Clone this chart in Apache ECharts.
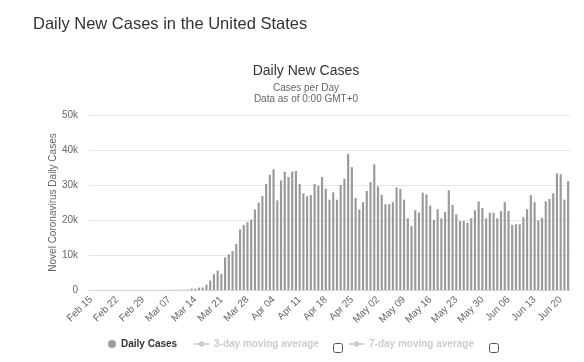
<!DOCTYPE html>
<html>
<head>
<meta charset="utf-8">
<script src="https://cdn.jsdelivr.net/npm/echarts@6/dist/echarts.min.js"></script>
<style>html,body{margin:0;padding:0;background:#fff;}#c{width:584px;height:362px;}</style>
</head>
<body>
<div id="c"></div>
<script>
const categories = [
"Feb 15","Feb 16","Feb 17","Feb 18","Feb 19","Feb 20","Feb 21","Feb 22","Feb 23","Feb 24","Feb 25","Feb 26","Feb 27","Feb 28","Feb 29",
"Mar 01","Mar 02","Mar 03","Mar 04","Mar 05","Mar 06","Mar 07","Mar 08","Mar 09","Mar 10","Mar 11","Mar 12","Mar 13","Mar 14","Mar 15","Mar 16","Mar 17","Mar 18","Mar 19","Mar 20","Mar 21","Mar 22","Mar 23","Mar 24","Mar 25","Mar 26","Mar 27","Mar 28","Mar 29","Mar 30","Mar 31",
"Apr 01","Apr 02","Apr 03","Apr 04","Apr 05","Apr 06","Apr 07","Apr 08","Apr 09","Apr 10","Apr 11","Apr 12","Apr 13","Apr 14","Apr 15","Apr 16","Apr 17","Apr 18","Apr 19","Apr 20","Apr 21","Apr 22","Apr 23","Apr 24","Apr 25","Apr 26","Apr 27","Apr 28","Apr 29","Apr 30",
"May 01","May 02","May 03","May 04","May 05","May 06","May 07","May 08","May 09","May 10","May 11","May 12","May 13","May 14","May 15","May 16","May 17","May 18","May 19","May 20","May 21","May 22","May 23","May 24","May 25","May 26","May 27","May 28","May 29","May 30","May 31",
"Jun 01","Jun 02","Jun 03","Jun 04","Jun 05","Jun 06","Jun 07","Jun 08","Jun 09","Jun 10","Jun 11","Jun 12","Jun 13","Jun 14","Jun 15","Jun 16","Jun 17","Jun 18","Jun 19","Jun 20","Jun 21","Jun 22"
];
const dailyCases = [
0,0,0,0,0,0,0,0,0,0,0,0,0,0,0,
8,15,20,30,45,50,80,90,70,100,110,120,
400,400,700,700,1500,2700,4500,5500,4600,9300,10200,11100,13200,17300,18600,19400,20100,23000,25000,26900,30300,32900,34500,25600,
31300,33800,32300,33800,34000,30300,27600,26800,27100,30300,29800,32300,28900,25800,27900,25800,30000,31800,38900,35100,26300,23000,25100,28300,30800,35900,29600,27200,24500,
24500,25100,29300,28900,25800,20500,18300,22800,22100,27800,27300,24100,20000,23100,20500,22300,28500,24300,21600,19700,19700,19200,20500,22800,25300,23400,20500,22100,
22100,20500,22600,25100,22600,18600,18800,18800,20800,23100,27100,25100,19900,20600,25300,26000,27600,33300,33100,25800,31100
];
const movingAvg3 = [];
const movingAvg7 = [];
const yTicks = [0, 10000, 20000, 30000, 40000, 50000];

const FONT = '"Liberation Sans", Arial, sans-serif';
const chart = echarts.init(document.getElementById('c'), null, {renderer: 'canvas'});
const legendCommon = {
  top: 339, padding: 0, itemGap: 10,
  textStyle: {fontFamily: FONT, fontSize: 10, fontWeight: 'bold', color: '#333'},
  inactiveColor: '#cccccc',
  selected: {'3-day moving average': false, '7-day moving average': false}
};
chart.setOption({
  animation: false,
  graphic: [
    {type: 'text', left: 33, top: 16, style: {text: 'Daily New Cases in the United States', font: '16.5px ' + FONT, fill: '#333'}},
    {type: 'text', x: 306, y: 71, style: {text: 'Daily New Cases', align: 'center', verticalAlign: 'middle', font: '14px ' + FONT, fill: '#333'}},
    {type: 'text', x: 306, y: 88, style: {text: 'Cases per Day', align: 'center', verticalAlign: 'middle', font: '10px ' + FONT, fill: '#666'}},
    {type: 'text', x: 306, y: 99, style: {text: 'Data as of 0:00 GMT+0', align: 'center', verticalAlign: 'middle', font: '10px ' + FONT, fill: '#666'}},
    {type: 'rect', shape: {x: 333.5, y: 343.5, width: 9, height: 9, r: 2}, style: {fill: '#fff', stroke: '#555', lineWidth: 1}},
    {type: 'rect', shape: {x: 489.5, y: 343.5, width: 9, height: 9, r: 2}, style: {fill: '#fff', stroke: '#555', lineWidth: 1}}
  ],
  legend: [
    Object.assign({}, legendCommon, {left: 108, data: [{name: 'Daily Cases', icon: 'circle'}], itemWidth: 8, itemHeight: 8}),
    Object.assign({}, legendCommon, {left: 193, data: ['3-day moving average'], itemWidth: 15, itemHeight: 7}),
    Object.assign({}, legendCommon, {left: 348, data: ['7-day moving average'], itemWidth: 15, itemHeight: 7})
  ],
  grid: {left: 89, right: 14, top: 115, bottom: 72},
  xAxis: {
    type: 'category',
    data: categories,
    boundaryGap: true,
    axisLine: {lineStyle: {color: '#ccd6eb'}},
    axisTick: {show: false},
    axisLabel: {interval: 6, rotate: 45, fontFamily: FONT, fontSize: 10, color: '#666', margin: 8}
  },
  yAxis: {
    type: 'value',
    min: yTicks[0], max: yTicks[yTicks.length - 1], interval: 10000,
    name: 'Novel Coronavirus Daily Cases',
    nameLocation: 'middle', nameGap: 31, nameMoveOverlap: false,
    nameTextStyle: {fontFamily: FONT, fontSize: 10, color: '#666'},
    axisLine: {show: false}, axisTick: {show: false},
    splitLine: {lineStyle: {color: '#e6e6e6'}},
    axisLabel: {fontFamily: FONT, fontSize: 10, color: '#666', margin: 11,
      formatter: v => v === 0 ? '0' : (v / 1000) + 'k'}
  },
  series: [
    {name: 'Daily Cases', type: 'bar', data: dailyCases, barCategoryGap: '42%',
     itemStyle: {color: '#9a9a9a'}},
    {name: '3-day moving average', type: 'line', data: movingAvg3, symbol: 'circle', itemStyle: {color: '#cccccc'}},
    {name: '7-day moving average', type: 'line', data: movingAvg7, symbol: 'circle', itemStyle: {color: '#cccccc'}}
  ]
});
</script>
</body>
</html>
